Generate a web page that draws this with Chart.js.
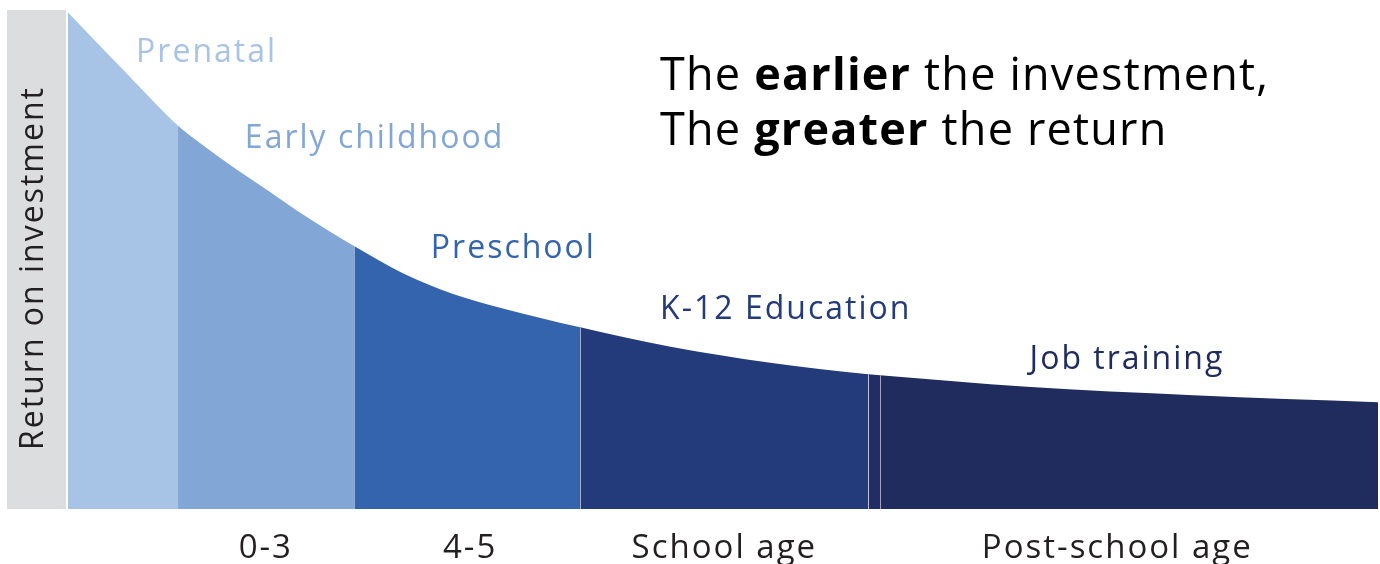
<!DOCTYPE html>
<html>
<head>
<meta charset="utf-8">
<script src="https://cdn.jsdelivr.net/npm/chart.js@4.4.1/dist/chart.umd.min.js"></script>
<style>
    html, body { margin: 0; padding: 0; background: #fff; }
    #wrap { width: 1380px; height: 564px; }
</style>
</head>
<body>
<div id="wrap"><canvas id="chart-roi"></canvas></div>
<script>
/* ============================================================
   DADOS — curva de retorno (eixo x: idade, 0..100 arbitrário)
   ============================================================ */
const curveX = [0, 4.5, 8.4, 10.3, 12.9, 15.4, 18.0, 21.9, 25.6, 29.4, 33.2, 39.1, 46.0, 53.6, 61.1, 62.0, 73.2, 85.9, 100];
const curveY = [99.5, 87.2, 76.8, 72.9, 68.0, 63.6, 58.9, 52.6, 47.2, 43.1, 40.2, 36.4, 32.5, 29.3, 27.0, 26.8, 24.5, 22.8, 21.4];

const stageNames = ['Prenatal', 'Early childhood', 'Preschool', 'K-12 Education', '', 'Job training'];
const stageBreaks = [0, 8.4, 21.9, 39.1, 61.1, 62.0, 100];

const ageTicks = [15.1, 30.7, 50.1, 80.1];
const ageLabels = ['0-3', '4-5', 'School age', 'Post-school age'];

const headline = [
    [['The ', false], ['earlier', true], [' the investment,', false]],
    [['The ', false], ['greater', true], [' the return', false]],
];

/* ============================================================
   ESTILO
   ============================================================ */
const COR = {
    stages: ['#a7c3e6', '#82a6d5', '#3464ae', '#233a7b', '#212e66', '#202b5e'],
    band: '#dcdddf',
    text: '#231f20',
    seam: 'rgba(255,255,255,0.35)',
};
const FONT = '"Open Sans", "Noto Sans", sans-serif';
const SPACING = '2px';

// posição dos rótulos das fases (em unidades de dados: x à esquerda, y na linha de base)
const LABEL_POS = [[5.2, 89.6], [13.5, 72.3], [27.7, 50.3], [45.2, 38.1], null, [73.4, 28.1]];

// índice da fase a que pertence um valor de x
function stageOf(x) {
    let i = 0;
    while (i < stageBreaks.length - 2 && x >= stageBreaks[i + 1]) i++;
    return i;
}

/* faixa cinza + título do eixo y (e espaçamento de letras global) */
const bandPlugin = {
    id: 'band',
    beforeDraw(chart) {
        const { ctx, chartArea } = chart;
        ctx.letterSpacing = SPACING;
        ctx.save();
        ctx.fillStyle = COR.band;
        ctx.fillRect(7, chartArea.top, chartArea.left - 9, chartArea.bottom - chartArea.top);
        ctx.translate(43, 268);
        ctx.rotate(-Math.PI / 2);
        ctx.font = `32px ${FONT}`;
        ctx.textAlign = 'center';
        ctx.textBaseline = 'alphabetic';
        ctx.fillStyle = COR.text;
        ctx.fillText('Return on investment', 0, 0);
        ctx.restore();
    }
};

/* rótulos das fases, linhas finas entre blocos e frase de destaque */
const labelPlugin = {
    id: 'labels',
    afterDatasetsDraw(chart) {
        const { ctx, scales: { x, y }, chartArea } = chart;
        ctx.save();

        // linhas claras entre os blocos escuros
        ctx.strokeStyle = COR.seam;
        ctx.lineWidth = 1;
        [3, 4, 5].forEach(i => {
            const k = curveX.indexOf(stageBreaks[i]);
            const px = Math.round(x.getPixelForValue(stageBreaks[i])) + 0.5;
            ctx.beginPath();
            ctx.moveTo(px, chartArea.bottom);
            ctx.lineTo(px, y.getPixelForValue(curveY[k]) + 1);
            ctx.stroke();
        });

        ctx.font = `32px ${FONT}`;
        ctx.textAlign = 'left';
        ctx.textBaseline = 'alphabetic';
        stageNames.forEach((name, i) => {
            if (!name || !LABEL_POS[i]) return;
            ctx.fillStyle = COR.stages[i];
            ctx.fillText(name, x.getPixelForValue(LABEL_POS[i][0]), y.getPixelForValue(LABEL_POS[i][1]));
        });

        // frase
        ctx.fillStyle = '#000';
        ctx.letterSpacing = '1.2px';
        const base = [90, 145];
        headline.forEach((line, li) => {
            let cx = 660;
            line.forEach(([txt, bold]) => {
                ctx.font = `${bold ? '700 ' : ''}45px ${FONT}`;
                ctx.fillText(txt, cx, base[li]);
                cx += ctx.measureText(txt).width;
            });
        });
        ctx.restore();
    }
};

new Chart(document.getElementById('chart-roi'), {
    type: 'line',
    data: {
        datasets: [{
            label: 'Return on investment',
            data: curveX.map((x, k) => ({ x, y: curveY[k] })),
            backgroundColor: COR.stages[0],
            borderWidth: 0,
            pointRadius: 0,
            fill: 'origin',
            cubicInterpolationMode: 'monotone',
            segment: {
                backgroundColor: ctx => COR.stages[stageOf(curveX[ctx.p0DataIndex])],
            },
        }]
    },
    options: {
        responsive: true,
        maintainAspectRatio: false,
        animation: false,
        layout: { padding: { top: 10, right: 2, left: 0, bottom: 0 } },
        plugins: {
            legend: { display: false },
            tooltip: { enabled: false },
        },
        scales: {
            x: {
                type: 'linear',
                min: 0,
                max: 100,
                grid: { display: false },
                border: { display: false },
                afterBuildTicks: s => { s.ticks = ageTicks.map(v => ({ value: v })); },
                afterFit: s => { s.height = 55; },
                ticks: {
                    autoSkip: false,
                    maxRotation: 0,
                    padding: 12,
                    color: COR.text,
                    font: { family: FONT, size: 33 },
                    callback: (v, i) => ageLabels[i],
                }
            },
            y: {
                min: 0,
                max: 100,
                grid: { display: false },
                border: { display: false },
                ticks: { display: false },
                afterFit: s => { s.width = 68; },
            }
        }
    },
    plugins: [bandPlugin, labelPlugin]
});
</script>
</body>
</html>
